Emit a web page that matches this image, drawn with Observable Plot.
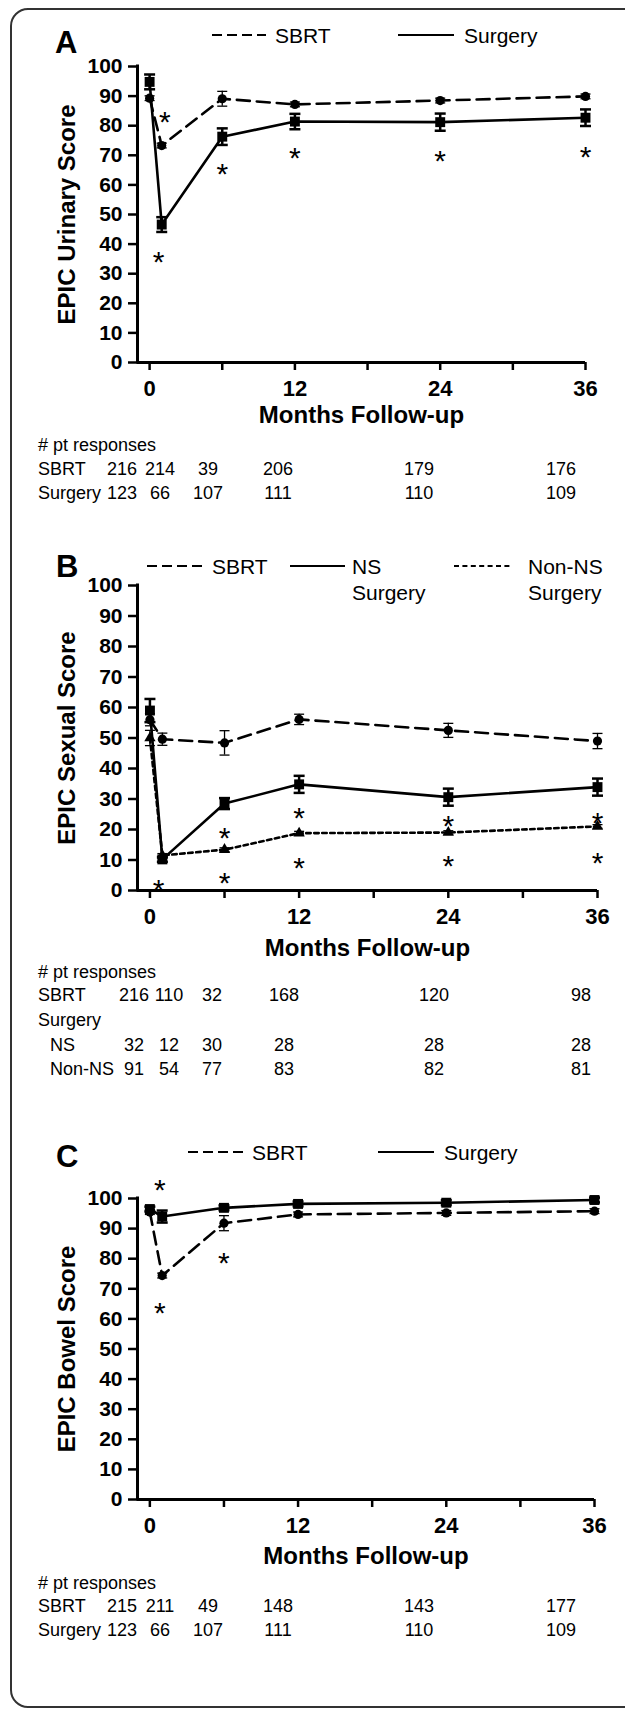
<!DOCTYPE html>
<html>
<head>
<meta charset="utf-8">
<script src="https://cdn.jsdelivr.net/npm/d3@7"></script>
<script src="https://cdn.jsdelivr.net/npm/@observablehq/plot@0.6"></script>
<style>
  html, body { margin: 0; padding: 0; background: #fff; }
  #root { position: relative; width: 625px; height: 1715px; overflow: hidden; }
  .frame { position: absolute; left: 10px; top: 8px; width: 720px; height: 1700px;
           border: 2px solid #333; border-radius: 18px; box-sizing: border-box; }
  .panel { position: absolute; left: 0; }
  .panel svg { overflow: visible; }
  #overlay { position: absolute; left: 0; top: 0; pointer-events: none; }
</style>
</head>
<body>
<div id="root"><div class="frame"></div></div>
<script>
// ---------------- DATA ----------------
const months = [0, 1, 6, 12, 24, 36];
const xTicks = [0, 6, 12, 18, 24, 30, 36];
const xTickLabels = [0, 12, 24, 36];
const yTicks = [0, 10, 20, 30, 40, 50, 60, 70, 80, 90, 100];

// Panel A – EPIC Urinary
const urinarySeries = ["SBRT", "Surgery"];
const urinarySBRT = [89.3, 73.3, 89.1, 87.2, 88.5, 89.9];
const urinarySBRTErr = [0.8, 0.8, 2.5, 0.8, 0.8, 0.8];
const urinarySurgery = [94.8, 46.6, 76.3, 81.4, 81.2, 82.7];
const urinarySurgeryErr = [2.5, 2.5, 2.8, 2.6, 2.9, 2.8];
const urinaryStarMonths = [1.25, 0.75, 6, 12, 24, 36];
const urinaryStarScores = [83.8, 36.5, 66.0, 71.6, 70.5, 71.8];
const urinaryCountsSBRT = [216, 214, 39, 206, 179, 176];
const urinaryCountsSurgery = [123, 66, 107, 111, 110, 109];

// Panel B – EPIC Sexual
const sexualSeries = ["SBRT", "NS\nSurgery", "Non-NS\nSurgery"];
const sexualSBRT = [56.0, 49.6, 48.4, 56.1, 52.5, 49.0];
const sexualSBRTErr = [2.0, 2.0, 4.0, 1.7, 2.3, 2.5];
const sexualNS = [59.0, 10.2, 28.5, 34.8, 30.6, 33.9];
const sexualNSErr = [3.8, 0.8, 1.8, 2.8, 2.8, 2.8];
const sexualNonNS = [50.0, 11.5, 13.4, 18.8, 19.0, 21.0];
const sexualNonNSErr = [2.5, 0.6, 0.6, 0.6, 0.6, 0.6];
const sexualStarMonths = [0.7, 6, 6, 12, 12, 24, 24, 36, 36];
const sexualStarScores = [2.7, 19.7, 4.9, 26.0, 9.8, 23.5, 10.4, 24.6, 11.5];
const sexualCountsSBRT = [216, 110, 32, 168, 120, 98];
const sexualCountsNS = [32, 12, 30, 28, 28, 28];
const sexualCountsNonNS = [91, 54, 77, 83, 82, 81];

// Panel C – EPIC Bowel
const bowelSeries = ["SBRT", "Surgery"];
const bowelSBRT = [95.5, 74.4, 91.8, 94.7, 95.2, 95.8];
const bowelSBRTErr = [0.8, 0.8, 2.5, 0.8, 0.8, 0.8];
const bowelSurgery = [96.5, 94.0, 96.9, 98.2, 98.6, 99.5];
const bowelSurgeryErr = [0.8, 2.0, 0.8, 0.8, 0.8, 0.8];
const bowelStarMonths = [0.8, 0.8, 6];
const bowelStarScores = [105.4, 64.4, 81.0];
const bowelCountsSBRT = [215, 211, 49, 148, 143, 177];
const bowelCountsSurgery = [123, 66, 107, 111, 110, 109];

// ---------------- STYLE / LAYOUT ----------------
const SANS = "'Liberation Sans', Arial, Helvetica, sans-serif";
const DASH = "13,7", DOT = "4.5,3.5";
const LEG_DASH = "10,5", LEG_DOT = "5,3.4";
const STAR_SIZE = 30;

const capSymbol = { draw(ctx, size) { const w = Math.sqrt(size / Math.PI); ctx.moveTo(-w, 0); ctx.lineTo(w, 0); } };

function buildPanel(cfg) {
  const marks = [
    Plot.axisY({ticks: yTicks, tickSize: 9, tickPadding: 6, strokeWidth: 2.5, label: null,
                fontSize: 21, fontWeight: "bold", fontFamily: SANS}),
    Plot.axisX({ticks: xTicks, tickFormat: d => xTickLabels.includes(d) ? String(d) : "",
                tickSize: 8, tickPadding: 10, strokeWidth: 2.5, label: null,
                fontSize: 22, fontWeight: "bold", fontFamily: SANS}),
    Plot.ruleX([-1], {y1: 0, y2: 100, strokeWidth: 3, strokeLinecap: "square"}),
    Plot.ruleY([0], {x1: -1, x2: 36, strokeWidth: 3}),
    Plot.text([cfg.yLabel], {frameAnchor: "left", rotate: -90, dx: -70, lineAnchor: "middle", textAnchor: "middle",
                             fontSize: 24, fontWeight: "bold", fontFamily: SANS}),
    Plot.text([cfg.xLabel], {frameAnchor: "bottom", dy: cfg.xLabelDy, lineAnchor: "middle", textAnchor: "middle",
                             fontSize: 24, fontWeight: "bold", fontFamily: SANS})
  ];
  for (const s of cfg.series) {
    const rows = months.map((m, i) => ({month: m, score: s.values[i]}));
    marks.push(Plot.line(rows, {x: "month", y: "score", stroke: "black", strokeWidth: 2.6, strokeDasharray: s.dash}));
  }
  for (const s of cfg.series) {
    const rows = months.map((m, i) => ({month: m, score: s.values[i], lo: s.values[i] - s.err[i], hi: s.values[i] + s.err[i]}));
    marks.push(Plot.ruleX(rows, {x: "month", y1: "lo", y2: "hi", stroke: "black", strokeWidth: s.errWidth}));
    marks.push(Plot.dot(rows, {x: "month", y: "lo", symbol: capSymbol, r: s.capR, fill: "none", stroke: "black", strokeWidth: s.errWidth}));
    marks.push(Plot.dot(rows, {x: "month", y: "hi", symbol: capSymbol, r: s.capR, fill: "none", stroke: "black", strokeWidth: s.errWidth}));
    marks.push(Plot.dot(rows, {x: "month", y: "score", symbol: s.symbol, r: s.r, fill: "black", stroke: "none"}));
  }
  const stars = cfg.starMonths.map((m, i) => ({month: m, score: cfg.starScores[i]}));
  marks.push(Plot.text(stars, {x: "month", y: "score", text: () => "*", fontSize: STAR_SIZE, fontFamily: SANS,
                               lineAnchor: "middle", dy: 0.255 * STAR_SIZE, fill: "black"}));
  const svg = Plot.plot({
    width: 625, height: cfg.height,
    marginLeft: 137, marginRight: 625 - cfg.xRight, marginTop: cfg.marginTop, marginBottom: cfg.marginBottom,
    x: {domain: [-1, 36]}, y: {domain: [0, 100]},
    style: {fontFamily: SANS, color: "black", background: "transparent", overflow: "visible"},
    marks
  });
  const wrap = document.createElement("div");
  wrap.className = "panel";
  wrap.style.top = cfg.top + "px";
  wrap.appendChild(svg);
  document.getElementById("root").appendChild(wrap);
}

buildPanel({
  top: 0, height: 435, marginTop: 66, marginBottom: 73, xRight: 585, xLabelDy: 53,
  yLabel: "EPIC Urinary Score", xLabel: "Months Follow-up",
  series: [
    {values: urinarySBRT, err: urinarySBRTErr, dash: DASH, symbol: "circle", r: 4.6, errWidth: 1.3, capR: 5},
    {values: urinarySurgery, err: urinarySurgeryErr, dash: null, symbol: "square", r: 5.6, errWidth: 2.5, capR: 5.5}
  ],
  starMonths: urinaryStarMonths, starScores: urinaryStarScores
});
buildPanel({
  top: 540, height: 423, marginTop: 45, marginBottom: 73, xRight: 597, xLabelDy: 58,
  yLabel: "EPIC Sexual Score", xLabel: "Months Follow-up",
  series: [
    {values: sexualSBRT, err: sexualSBRTErr, dash: DASH, symbol: "circle", r: 4.6, errWidth: 1.3, capR: 5},
    {values: sexualNS, err: sexualNSErr, dash: null, symbol: "square", r: 5.6, errWidth: 2.5, capR: 5.5},
    {values: sexualNonNS, err: sexualNonNSErr, dash: DOT, symbol: "triangle", r: 4.2, errWidth: 1.3, capR: 5}
  ],
  starMonths: sexualStarMonths, starScores: sexualStarScores
});
buildPanel({
  top: 1130, height: 442, marginTop: 68, marginBottom: 73, xRight: 594, xLabelDy: 57,
  yLabel: "EPIC Bowel Score", xLabel: "Months Follow-up",
  series: [
    {values: bowelSBRT, err: bowelSBRTErr, dash: DASH, symbol: "circle", r: 4.6, errWidth: 1.3, capR: 5},
    {values: bowelSurgery, err: bowelSurgeryErr, dash: null, symbol: "square", r: 5.6, errWidth: 2.5, capR: 5.5}
  ],
  starMonths: bowelStarMonths, starScores: bowelStarScores
});

// ---------------- OVERLAY: letters, legends, response tables ----------------
const overlay = d3.select("#root").append("svg")
  .attr("id", "overlay").attr("width", 625).attr("height", 1715)
  .style("font-family", SANS);

const letters = [{t: "A", x: 55, y: 53}, {t: "B", x: 56, y: 577}, {t: "C", x: 56, y: 1167}];
overlay.selectAll("text.letter").data(letters).join("text").attr("class", "letter")
  .attr("x", d => d.x).attr("y", d => d.y).attr("font-size", 31).attr("font-weight", "bold").text(d => d.t);

function legend(y, names, layout) {
  names.forEach((name, i) => {
    const L = layout[i];
    overlay.append("line").attr("x1", L.x1).attr("x2", L.x2).attr("y1", y).attr("y2", y)
      .attr("stroke", "black").attr("stroke-width", 2.2).attr("stroke-dasharray", L.dash || null);
    name.split("\n").forEach((line, k) => {
      overlay.append("text").attr("x", L.tx).attr("y", y + 7.5 + k * 26).attr("font-size", 21).text(line);
    });
  });
}
legend(35, urinarySeries, [{x1: 212, x2: 266, tx: 275, dash: LEG_DASH}, {x1: 398, x2: 454, tx: 464}]);
legend(566, sexualSeries, [{x1: 147, x2: 203, tx: 212, dash: LEG_DASH}, {x1: 290, x2: 345, tx: 352}, {x1: 454, x2: 512, tx: 528, dash: LEG_DOT}]);
legend(1152, bowelSeries, [{x1: 188, x2: 244, tx: 252, dash: LEG_DASH}, {x1: 378, x2: 434, tx: 444}]);

function table(headerY, rows, cols) {
  overlay.append("text").attr("x", 38).attr("y", headerY).attr("font-size", 18).text("# pt responses");
  rows.forEach(r => {
    overlay.append("text").attr("x", r.lx).attr("y", r.y).attr("font-size", 18).text(r.label);
    (r.counts || []).forEach((c, i) => {
      overlay.append("text").attr("x", cols[i]).attr("y", r.y).attr("font-size", 18)
        .attr("text-anchor", "middle").text(c);
    });
  });
}
const colsA = [122, 160, 208, 278, 419, 561];
const colsB = [134, 169, 212, 284, 434, 581];
table(451, [
  {label: "SBRT", lx: 38, y: 474.5, counts: urinaryCountsSBRT},
  {label: "Surgery", lx: 38, y: 498.5, counts: urinaryCountsSurgery}
], colsA);
table(978, [
  {label: "SBRT", lx: 38, y: 1001, counts: sexualCountsSBRT},
  {label: "Surgery", lx: 38, y: 1026},
  {label: "NS", lx: 50, y: 1051, counts: sexualCountsNS},
  {label: "Non-NS", lx: 50, y: 1075, counts: sexualCountsNonNS}
], colsB);
table(1589, [
  {label: "SBRT", lx: 38, y: 1612, counts: bowelCountsSBRT},
  {label: "Surgery", lx: 38, y: 1636, counts: bowelCountsSurgery}
], colsA);
</script>
</body>
</html>
